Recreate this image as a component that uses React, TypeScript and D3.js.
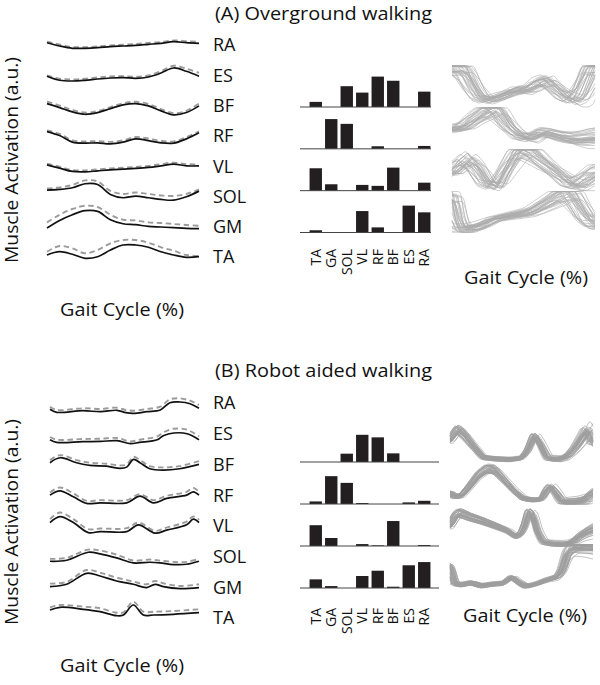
import React from 'react';
import * as d3 from 'd3';

// ---------- categories ----------
const MUSCLES = ['RA', 'ES', 'BF', 'RF', 'VL', 'SOL', 'GM', 'TA'];
const BAR_MUSCLES = ['TA', 'GA', 'SOL', 'VL', 'RF', 'BF', 'ES', 'RA'];
const SYN_ROWS = [0, 1, 2, 3];

// ---------- (A) mean activations (solid) and reconstructions (dashed) ----------
const GAIT_A = [0, 8.3, 16.7, 25, 33.3, 41.7, 50, 58.3, 66.7, 75, 83.3, 91.7, 100];
const A_RA = [14.3, 11, 8.7, 8.7, 9.3, 10.3, 11, 11.7, 12.7, 13.7, 15.3, 14.3, 13.7];
const A_RA_REC = [15.3, 12.5, 10, 9.8, 10.5, 11.5, 12.3, 13, 14, 15, 16.5, 15.8, 15];
const A_ES = [11, 7, 6.3, 7, 8.3, 9.3, 9.7, 9, 10.3, 14.3, 19.3, 16, 11];
const A_ES_REC = [12, 8.5, 7.8, 8.5, 9.8, 10.8, 11.2, 10.5, 11.8, 16, 21.5, 18.5, 14.5];
const A_BF = [14, 10, 5.7, 3.3, 5, 9, 12.7, 14, 11.7, 6.7, 2.7, 5, 11.7];
const A_BF_REC = [16, 12, 7.5, 5, 6.5, 10.5, 14.3, 15.8, 13.5, 8.5, 4.3, 6.8, 14];
const A_RF = [16.3, 12.3, 5.7, 4.7, 5, 4, 5.7, 9, 7.3, 5, 4.7, 9, 15];
const A_RF_REC = [17.5, 14, 7.5, 6.3, 6.8, 6, 7.5, 10.8, 9.3, 7, 6.5, 10.8, 16.5];
const A_VL = [13.3, 10, 6.7, 6.3, 7.3, 8.3, 9, 9.7, 10.7, 12.3, 14, 12.3, 12.3];
const A_VL_REC = [14.5, 11.5, 8, 7.8, 8.8, 9.8, 10.5, 11.2, 12.2, 14, 15.5, 14, 13.8];
const A_SOL = [18.3, 19, 20.7, 24.7, 24, 14, 10.7, 12.3, 10.7, 9, 8.3, 11.7, 17.3];
const A_SOL_REC = [20, 21, 23.5, 28, 27, 17.5, 14.5, 16, 14.5, 13, 12.5, 14.5, 19];
const A_GM = [10.7, 18.3, 24, 28, 27.3, 19, 15, 14, 12.3, 11.7, 11, 10.3, 10];
const A_GM_REC = [16.3, 24, 29.7, 33, 31.7, 24, 19, 18.3, 16.3, 15.7, 14.7, 13.7, 13];
const A_TA = [14, 17.3, 14.7, 10.7, 12.3, 19, 24, 24, 21.7, 17.3, 14, 11.7, 12.3];
const A_TA_REC = [17.3, 23, 20.7, 15.7, 19, 25.7, 29, 29, 26.3, 21.7, 18.3, 14, 13];

// ---------- (B) mean activations (gait %, solid, dashed) ----------
const B_RA_PCT = [0, 4.5, 22, 34, 45, 51, 56, 65, 74, 80.5, 87, 94, 100];
const B_RA = [5.7, 2.7, 4.3, 3.3, 4.7, 2.3, 1.7, 3.3, 5, 12.3, 13, 11.3, 6.7];
const B_RA_REC = [8.3, 5, 6.7, 6, 7.3, 5, 4.3, 6, 8.3, 15.7, 16.7, 14.3, 10];
const B_ES_PCT = [0, 4.5, 22, 34, 45, 54, 60, 72, 76, 83, 92, 100];
const B_ES = [6, 3.3, 4, 4.3, 5, 2, 3.3, 6, 10, 12.7, 12, 6];
const B_ES_REC = [8.7, 6, 6.7, 7, 7.7, 4.3, 6, 9.3, 13.3, 17, 16, 9.3];
const B_BF_PCT = [0, 6.7, 17.9, 26.8, 38, 47, 51.5, 56, 60.4, 67, 76, 87, 100];
const B_BF = [13.7, 18.7, 13.7, 11, 10.3, 8, 9.3, 17, 13.7, 7.7, 6.3, 7.7, 12];
const B_BF_REC = [16.3, 21.3, 16.3, 13.7, 12.7, 11, 12, 19.7, 16.3, 10.3, 9, 10.3, 15.3];
const B_RF_PCT = [0, 6.7, 15.7, 24.6, 33.6, 51.5, 60.4, 69.4, 78.3, 91.7, 96.2, 100];
const B_RF = [12, 16.3, 10.3, 3.7, 4.3, 4.3, 11, 4.3, 8.7, 12, 15.3, 12];
const B_RF_REC = [14.7, 19.7, 13.7, 6.3, 7, 7, 13, 7, 11.3, 15.3, 19.3, 15.3];
const B_VL_PCT = [0, 6.7, 15.7, 25.7, 33.6, 51.5, 59.3, 70.5, 78.3, 91.7, 96.2, 100];
const B_VL = [15.3, 21.3, 15.3, 5.3, 6.3, 6.3, 13, 4.7, 7.7, 13, 18.7, 15.3];
const B_VL_REC = [18.7, 25.3, 18.7, 8.7, 9.3, 9.7, 15.3, 7, 10.3, 16.3, 21.3, 18];
const B_SOL_PCT = [0, 11.2, 25.7, 33.6, 44.7, 55.9, 67.1, 73.8, 82.8, 91.7, 100];
const B_SOL = [7.3, 8.3, 16.3, 14.7, 10.7, 5.7, 6.3, 5.7, 4, 4.3, 7.3];
const B_SOL_REC = [9.7, 10.7, 19, 18, 14, 8, 9, 8, 6.7, 6.7, 9.7];
const B_GM_PCT = [0, 11.2, 24.6, 33.6, 44.7, 55.9, 64.9, 70.5, 76, 87.2, 100];
const B_GM = [12.7, 15, 26, 23.3, 18.3, 15, 11.7, 15, 12.7, 10.7, 11.7];
const B_GM_REC = [15.7, 17.3, 29.3, 26.7, 21.7, 17.7, 15, 18.3, 16, 13.3, 15];
const B_TA_PCT = [0, 6.7, 22.4, 33.6, 44.7, 49.2, 55.9, 62.6, 69.4, 82.8, 100];
const B_TA = [20, 22.7, 20.7, 18.3, 14.3, 15, 25, 15, 15, 15.7, 17.3];
const B_TA_REC = [22.7, 25, 23.3, 21.7, 17.3, 17.7, 28.3, 18.3, 18.3, 19, 20.7];

// ---------- synergy weights (bars), order = BAR_MUSCLES ----------
const A_W1 = [0.16, 0, 0.65, 0.45, 0.95, 0.82, 0, 0.48];
const A_W2 = [0, 0.93, 0.78, 0, 0.08, 0, 0, 0.09];
const A_W3 = [0.7, 0.2, 0, 0.18, 0.15, 0.72, 0, 0.25];
const A_W4 = [0.07, 0, 0, 0.67, 0.16, 0, 0.84, 0.63];
const B_W1 = [0, 0, 0.26, 0.85, 0.77, 0.27, 0, 0];
const B_W2 = [0.08, 0.87, 0.66, 0.03, 0, 0, 0.05, 0.1];
const B_W3 = [0.65, 0.25, 0, 0.06, 0.02, 0.78, 0, 0.03];
const B_W4 = [0.27, 0.06, 0, 0.375, 0.54, 0.04, 0.71, 0.81];

// ---------- activation coefficient templates [gait %, value] ----------
const A_C1: [number, number][] = [[0, 0.95], [6, 0.97], [10, 0.8], [15, 0.45], [20, 0.2], [26, 0.12], [33, 0.2], [40, 0.3], [46, 0.38], [52, 0.35], [60, 0.55], [66, 0.6], [72, 0.4], [78, 0.2], [84, 0.1], [89, 0.2], [94, 0.6], [98, 0.95], [100, 1]];
const A_C2: [number, number][] = [[0, 0.45], [8, 0.5], [15, 0.7], [22, 0.85], [28, 1.0], [33, 0.85], [40, 0.5], [48, 0.25], [55, 0.2], [62, 0.35], [70, 0.3], [78, 0.2], [85, 0.15], [92, 0.15], [100, 0.2]];
const A_C3: [number, number][] = [[0, 0.4], [5, 0.6], [11, 0.75], [17, 0.55], [24, 0.15], [31, 0.05], [38, 0.5], [45, 0.9], [50, 1.0], [57, 0.85], [65, 0.6], [74, 0.35], [82, 0.1], [88, 0.05], [94, 0.2], [100, 0.35]];
const A_C4: [number, number][] = [[0, 0.85], [3, 0.3], [6, 0.05], [14, 0.05], [22, 0.15], [30, 0.3], [38, 0.35], [46, 0.4], [54, 0.45], [62, 0.6], [70, 0.75], [76, 0.9], [82, 0.95], [88, 0.6], [94, 0.25], [100, 0.1]];
const B_C1: [number, number][] = [[0, 0.6], [5.5, 0.92], [10, 0.75], [16, 0.45], [23, 0.12], [32, 0.08], [42, 0.06], [50, 0.1], [54, 0.3], [59, 0.75], [63, 0.5], [68, 0.1], [76, 0.06], [82, 0.15], [88, 0.4], [93, 0.7], [96, 0.9], [100, 0.55]];
const B_C2: [number, number][] = [[0, 0.3], [3, 0.2], [8, 0.22], [14, 0.5], [20, 0.8], [26, 0.97], [31, 0.95], [38, 0.65], [45, 0.35], [51, 0.15], [58, 0.1], [64, 0.12], [67, 0.35], [70, 0.5], [74, 0.3], [78, 0.05], [88, 0.05], [95, 0.1], [100, 0.3]];
const B_C3: [number, number][] = [[0, 0.55], [4, 0.85], [7, 0.92], [14, 0.8], [22, 0.7], [32, 0.55], [40, 0.42], [46, 0.25], [49, 0.3], [52, 0.55], [55, 0.95], [58, 0.85], [61, 0.4], [65, 0.1], [72, 0.05], [80, 0.02], [86, 0.1], [92, 0.3], [100, 0.45]];
const B_C4: [number, number][] = [[0, 0.6], [3, 0.12], [8, 0.08], [15, 0.14], [22, 0.05], [30, 0.1], [37, 0.12], [43, 0.3], [48, 0.15], [53, 0.03], [60, 0.1], [68, 0.22], [75, 0.3], [78, 0.45], [82, 0.95], [86, 1.1], [92, 1.12], [100, 1.1]];

// ---------- per-cycle variation: time shift at start/end (%), gain, offset at start/end ----------
const A_SHIFT0 = [-9, -7, -6, -5, -4, -3, -2, -2, -1, 0, 0, 1, 1, 2, 3, 3, 4, 5, 6, 7, 8, -8, -5, -1, 2, 4, 6, -3, 0, 9];
const A_SHIFT1 = [4, -6, 2, -3, 7, -8, 3, -2, 5, -5, 0, 8, -4, 6, -1, -7, 2, -3, 5, -6, 9, 1, -9, 10, -2, 3, -5, 6, -4, 0];
const A_GAIN = [0.9, 1.1, 0.7, 1.2, 0.85, 1.0, 1.3, 0.75, 1.05, 0.95, 1.15, 0.8, 1.25, 0.9, 1.0, 0.65, 1.1, 0.85, 1.2, 0.95, 0.75, 1.05, 0.6, 1.35, 0.8, 1.1, 0.7, 1.2, 0.9, 1.0];
const A_OFF0 = [0.05, -0.05, 0.1, 0, 0.08, -0.02, 0, 0.12, 0.03, -0.04, 0.06, 0.1, -0.06, 0.02, 0.07, 0.15, -0.03, 0.04, 0, 0.09, 0.12, -0.02, 0.18, -0.08, 0.1, 0, 0.14, -0.05, 0.06, 0.02];
const A_OFF1 = [-0.04, 0.1, 0.02, 0.15, -0.06, 0.08, -0.1, 0.2, 0, 0.05, -0.02, 0.12, 0.04, -0.08, 0.18, 0, 0.1, -0.05, 0.07, 0.22, -0.03, 0.14, 0.06, -0.12, 0.25, 0.03, -0.07, 0.1, 0.16, -0.02];
const B_SHIFT0 = [-3.5, -3, -2.5, -2, -2, -1.5, -1, -1, -0.5, 0, 0, 0, 0.5, 1, 1, 1.5, 2, 2, 2.5, 3, 3.5, -1.8, 1.8, -0.8, 0.8, -2.2, 2.2, 0.3, -0.3, 1.2, -1.2, 0, -2.8, 2.8, -1.5, 1.5];
const B_SHIFT1 = [2, -1, 3, -2, 0, 1.5, -3, 2.5, -1.5, 0, 1, -2.5, 3.5, -0.5, 2, -3.5, 0.5, 1, -1, 4, -4, 2, -2, 0, 1.5, -1.5, 3, -3, 0.5, -0.5, 4.5, -4.5, 1, -1, 2.5, -2.5];
const B_GAIN = [0.88, 1.06, 0.84, 1.12, 0.94, 1.0, 1.1, 0.9, 1.03, 0.97, 1.15, 0.92, 1.0, 1.08, 0.86, 1.04, 0.95, 1.11, 0.9, 1.02, 0.85, 1.13, 0.98, 1.05, 0.89, 1.09, 0.99, 0.93, 1.07, 1.0, 0.87, 1.14, 0.96, 1.01, 0.91, 1.06];
const B_OFF0 = [0.03, -0.03, 0.06, 0, -0.04, 0.05, 0.01, -0.02, 0.07, -0.05, 0, 0.03, -0.03, 0.04, 0.06, -0.04, 0.02, 0, -0.02, 0.03, 0.07, -0.03, 0.04, -0.06, 0.02, 0, 0.03, -0.01, 0.05, -0.04, 0.08, -0.05, 0.01, 0.04, -0.02, 0.02];
const B_OFF1 = [0.05, -0.08, 0.1, -0.02, 0.12, -0.12, 0.02, 0.08, -0.05, 0.15, -0.15, 0, 0.06, -0.1, 0.18, -0.04, 0.09, -0.18, 0.03, 0.12, -0.06, 0.2, -0.08, 0.04, -0.2, 0.1, -0.03, 0.07, -0.12, 0.14, -0.1, 0.02, 0.16, -0.06, 0.08, -0.14];

const FONT = '"Open Sans", "DejaVu Sans", sans-serif';

type Curve = { name: string; pct: number[]; mean: number[]; rec: number[] };

const curvesA: Curve[] = [
  { name: 'RA', pct: GAIT_A, mean: A_RA, rec: A_RA_REC },
  { name: 'ES', pct: GAIT_A, mean: A_ES, rec: A_ES_REC },
  { name: 'BF', pct: GAIT_A, mean: A_BF, rec: A_BF_REC },
  { name: 'RF', pct: GAIT_A, mean: A_RF, rec: A_RF_REC },
  { name: 'VL', pct: GAIT_A, mean: A_VL, rec: A_VL_REC },
  { name: 'SOL', pct: GAIT_A, mean: A_SOL, rec: A_SOL_REC },
  { name: 'GM', pct: GAIT_A, mean: A_GM, rec: A_GM_REC },
  { name: 'TA', pct: GAIT_A, mean: A_TA, rec: A_TA_REC },
];
const curvesB: Curve[] = [
  { name: 'RA', pct: B_RA_PCT, mean: B_RA, rec: B_RA_REC },
  { name: 'ES', pct: B_ES_PCT, mean: B_ES, rec: B_ES_REC },
  { name: 'BF', pct: B_BF_PCT, mean: B_BF, rec: B_BF_REC },
  { name: 'RF', pct: B_RF_PCT, mean: B_RF, rec: B_RF_REC },
  { name: 'VL', pct: B_VL_PCT, mean: B_VL, rec: B_VL_REC },
  { name: 'SOL', pct: B_SOL_PCT, mean: B_SOL, rec: B_SOL_REC },
  { name: 'GM', pct: B_GM_PCT, mean: B_GM, rec: B_GM_REC },
  { name: 'TA', pct: B_TA_PCT, mean: B_TA, rec: B_TA_REC },
];

function evalTpl(tpl: [number, number][], p: number) {
  const q = Math.max(0, Math.min(100, p));
  for (let i = 1; i < tpl.length; i++) {
    if (q <= tpl[i][0]) {
      const [x0, y0] = tpl[i - 1];
      const [x1, y1] = tpl[i];
      const t = x1 === x0 ? 0 : (q - x0) / (x1 - x0);
      return y0 + t * (y1 - y0);
    }
  }
  return tpl[tpl.length - 1][1];
}

type PanelCfg = {
  curves: Curve[];
  rowRange: [number, number];
  curveX: [number, number];
  weights: number[][];
  baselines: [number, number];
  baseEnd: number;
  barLabelY: number;
  tpls: [number, number][][];
  bundleX: [number, number];
  bundleH: number;
  clampTop: number;
  endPow: number;
  var: { s0: number[]; s1: number[]; g: number[]; o0: number[]; o1: number[] };
  bundleColor: string;
  bundleWidth: number;
};

function Panel({ cfg }: { cfg: PanelCfg }) {
  const rowY = d3.scalePoint<string>().domain(MUSCLES).range(cfg.rowRange);
  const x = d3.scaleLinear().domain([0, 100]).range(cfg.curveX);
  const band = d3.scaleBand<string>().domain(BAR_MUSCLES).range([308, 432]).paddingInner(0.2).paddingOuter(0.1);
  const barH = d3.scaleLinear().domain([0, 1]).range([0, 32]);
  const synY = d3.scalePoint<number>().domain(SYN_ROWS).range(cfg.baselines);
  const bx = d3.scaleLinear().domain([0, 100]).range(cfg.bundleX);
  const samples = d3.range(0, 100.001, 1.25);

  return (
    <g>
      {cfg.curves.map((c) => {
        const cy = rowY(c.name) as number;
        const y = d3.scaleLinear().domain([0, 24]).range([cy + 12, cy - 12]);
        const line = d3
          .line<number>()
          .x((_, i) => x(c.pct[i]))
          .y((v) => y(v))
          .curve(d3.curveCatmullRom.alpha(0.5));
        return (
          <g key={c.name}>
            <path d={line(c.rec) || ''} fill="none" stroke="#9b9b9b" strokeWidth={1.9} strokeDasharray="5.5 3.5" />
            <path d={line(c.mean) || ''} fill="none" stroke="#111" strokeWidth={1.7} />
            <text x={213} y={cy} dy="0.36em" fontFamily={FONT} fontSize={18} fill="#111">
              {c.name}
            </text>
          </g>
        );
      })}
      {cfg.weights.map((w, r) => {
        const base = synY(r) as number;
        return (
          <g key={'w' + r}>
            {w.map((v, i) =>
              v > 0 ? (
                <rect
                  key={i}
                  x={band(BAR_MUSCLES[i])}
                  width={band.bandwidth()}
                  y={base - barH(v)}
                  height={barH(v)}
                  fill="#231f20"
                />
              ) : null
            )}
            <line x1={300} x2={cfg.baseEnd} y1={base} y2={base} stroke="#444" strokeWidth={1} />
          </g>
        );
      })}
      {BAR_MUSCLES.map((m) => (
        <text
          key={'bl' + m}
          transform={`translate(${(band(m) as number) + band.bandwidth() / 2 + 5},${cfg.barLabelY}) rotate(-90)`}
          textAnchor="end"
          fontFamily={FONT}
          fontSize={14}
          fill="#111"
        >
          {m}
        </text>
      ))}
      {cfg.tpls.map((tpl, r) => {
        const base = synY(r) as number;
        const yv = d3.scaleLinear().domain([0, 1]).range([base, base - cfg.bundleH]);
        const n = cfg.var.g.length;
        const line = d3
          .line<number>()
          .x((p) => bx(p))
          .curve(d3.curveBasis);
        return (
          <g key={'b' + r}>
            {d3.range(n).map((j) => {
              const k = (j + r * 7) % n;
              const s0 = cfg.var.s0[k];
              const s1 = cfg.var.s1[k];
              const g = cfg.var.g[k];
              const o0 = cfg.var.o0[k];
              const o1 = cfg.var.o1[k];
              const l = line.y((p) => {
                const t = p / 100;
                const sh = s0 * (1 - t) + s1 * t;
                const o = o0 + o1 * Math.pow(t, cfg.endPow);
                const v = o + g * evalTpl(tpl, p - sh);
                return yv(Math.max(0, Math.min(cfg.clampTop, v)));
              });
              return (
                <path key={j} d={l(samples) || ''} fill="none" stroke={cfg.bundleColor} strokeWidth={cfg.bundleWidth} />
              );
            })}
          </g>
        );
      })}
    </g>
  );
}

export default function App() {
  const cfgA: PanelCfg = {
    curves: curvesA,
    rowRange: [45, 257],
    curveX: [47, 199],
    weights: [A_W1, A_W2, A_W3, A_W4],
    baselines: [107, 232.5],
    baseEnd: 431,
    barLabelY: 249,
    tpls: [A_C1, A_C2, A_C3, A_C4],
    bundleX: [452, 595],
    bundleH: 41,
    clampTop: 1,
    endPow: 1.5,
    var: { s0: A_SHIFT0, s1: A_SHIFT1, g: A_GAIN, o0: A_OFF0, o1: A_OFF1 },
    bundleColor: '#ababab',
    bundleWidth: 0.6,
  };
  const cfgB: PanelCfg = {
    curves: curvesB,
    rowRange: [403, 618],
    curveX: [50, 199],
    weights: [B_W1, B_W2, B_W3, B_W4],
    baselines: [462, 588],
    baseEnd: 439,
    barLabelY: 608,
    tpls: [B_C1, B_C2, B_C3, B_C4],
    bundleX: [450, 593],
    bundleH: 36,
    clampTop: 1.2,
    endPow: 4,
    var: { s0: B_SHIFT0, s1: B_SHIFT1, g: B_GAIN, o0: B_OFF0, o1: B_OFF1 },
    bundleColor: '#9e9e9e',
    bundleWidth: 0.65,
  };
  return (
    <svg width={600} height={685} style={{ position: 'absolute', left: 0, top: 0, background: '#fff' }}>
      <rect width={600} height={685} fill="#fff" />
      <text x={215} y={19.5} fontFamily={FONT} fontSize={18.5} textLength={217} lengthAdjust="spacingAndGlyphs" fill="#111">
        (A) Overground walking
      </text>
      <text x={215} y={377} fontFamily={FONT} fontSize={18.5} textLength={217} lengthAdjust="spacingAndGlyphs" fill="#111">
        (B) Robot aided walking
      </text>
      <Panel cfg={cfgA} />
      <Panel cfg={cfgB} />
      <text transform="translate(18,160) rotate(-90)" textAnchor="middle" fontFamily={FONT} fontSize={18} textLength={206} lengthAdjust="spacingAndGlyphs" fill="#111">
        Muscle Activation (a.u.)
      </text>
      <text transform="translate(18,522) rotate(-90)" textAnchor="middle" fontFamily={FONT} fontSize={18} textLength={206} lengthAdjust="spacingAndGlyphs" fill="#111">
        Muscle Activation (a.u.)
      </text>
      <text x={122} y={316} textAnchor="middle" fontFamily={FONT} fontSize={18} textLength={124} lengthAdjust="spacingAndGlyphs" fill="#111">
        Gait Cycle (%)
      </text>
      <text x={122} y={672} textAnchor="middle" fontFamily={FONT} fontSize={18} textLength={124} lengthAdjust="spacingAndGlyphs" fill="#111">
        Gait Cycle (%)
      </text>
      <text x={526} y={284} textAnchor="middle" fontFamily={FONT} fontSize={18} textLength={124} lengthAdjust="spacingAndGlyphs" fill="#111">
        Gait Cycle (%)
      </text>
      <text x={525} y={622} textAnchor="middle" fontFamily={FONT} fontSize={18} textLength={124} lengthAdjust="spacingAndGlyphs" fill="#111">
        Gait Cycle (%)
      </text>
    </svg>
  );
}
